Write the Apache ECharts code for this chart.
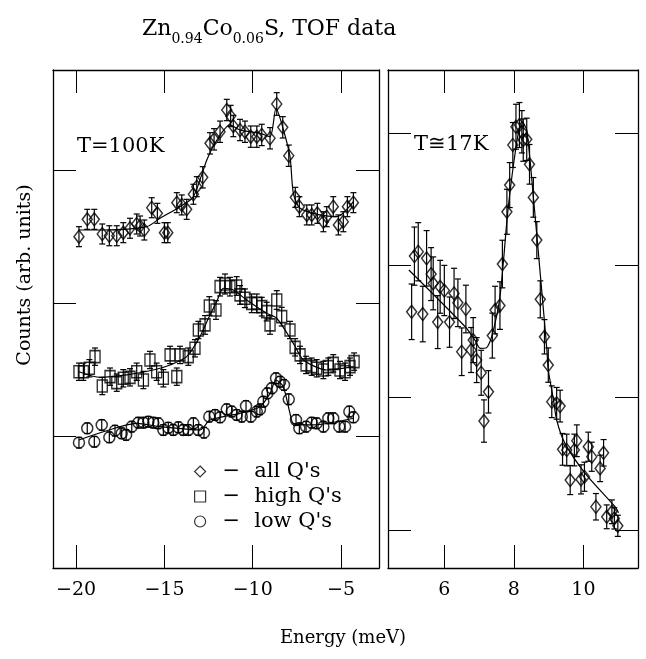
<!DOCTYPE html>
<html><head><meta charset="utf-8">
<script src="https://cdn.jsdelivr.net/npm/echarts@6/dist/echarts.min.js"></script>
<style>html,body{margin:0;padding:0;background:#fff}#c{width:646px;height:659px}</style>
</head><body><div id="c"></div>
<script>
// ---- T = 100 K, all Q's (diamonds) ----
const all100E = [-19.84,-19.37,-18.97,-18.52,-18.12,-17.70,-17.33,-16.95,-16.57,-16.38,-16.14,-15.72,-15.40,-15.00,-14.81,-14.30,-14.02,-13.74,-13.36,-13.17,-12.83,-12.42,-12.19,-11.85,-11.47,-11.25,-11.10,-10.72,-10.44,-10.11,-9.77,-9.49,-9.02,-8.64,-8.30,-7.96,-7.59,-7.36,-6.94,-6.66,-6.34,-6.00,-5.81,-5.44,-5.15,-4.87,-4.64,-4.30];
const all100C = [250.0,263.0,263.0,252.0,250.7,250.7,253.0,256.3,259.5,258.0,255.0,271.7,267.5,253.0,253.0,275.5,273.8,270.5,281.8,287.5,294.5,320.0,323.0,328.7,345.0,340.5,333.0,330.0,328.7,325.0,325.0,326.3,323.8,349.5,332.0,310.7,279.5,272.5,266.3,266.3,267.5,261.2,265.0,272.5,258.8,261.2,272.5,275.5];
const all100Err = [7.5,7.5,7.5,7.5,7.5,7.5,7.5,7.5,7.5,7.5,7.5,7.5,7.5,7.5,7.5,7.5,7.5,7.5,7.5,7.5,8,8,8,8,8,8,8,8,8,8,8,8,8,8.5,8,8,7.5,7.5,7.5,7.5,7.5,7.5,7.5,7.5,7.5,7.5,7.5,7.5];
// ---- T = 100 K, high Q's (squares) ----
const highE = [-19.84,-19.59,-19.25,-18.93,-18.52,-18.08,-17.70,-17.33,-16.95,-16.57,-16.19,-15.82,-15.44,-15.06,-14.68,-14.30,-14.12,-13.65,-13.27,-13.08,-12.70,-12.46,-12.08,-11.85,-11.57,-11.29,-10.91,-10.72,-10.44,-10.06,-9.77,-9.49,-9.21,-9.02,-8.64,-8.36,-7.89,-7.60,-7.32,-6.98,-6.66,-6.38,-6.00,-5.72,-5.44,-5.06,-4.77,-4.49,-4.26];
const highC = [148.7,148.7,151.3,160.0,138.0,145.0,140.5,143.8,144.5,148.7,142.5,157.5,148.7,143.8,161.3,145.0,161.3,160.0,166.3,180.0,183.8,198.0,195.0,212.5,214.5,212.5,213.0,206.3,203.8,200.0,200.0,197.5,193.8,183.8,202.5,190.0,180.0,167.0,161.3,153.8,152.5,151.3,150.0,152.5,155.0,150.0,148.7,152.5,156.3];
const highErr = [6.5,6.5,6.5,6.5,6.5,6.5,6.5,6.5,6.5,6.5,6.5,6.5,6.5,6.5,6.5,6.5,6.5,6.5,6.5,6.5,7,7,7,7,7.5,7,7,7,7,7,7,7,7,7,7,7,6.5,6.5,6.5,6.5,6.5,6.5,6.5,6.5,6.5,6.5,6.5,6.5,6.5];
// ---- T = 100 K, low Q's (circles) ----
const lowE = [-19.84,-19.37,-18.97,-18.55,-18.12,-17.80,-17.42,-17.17,-16.85,-16.48,-16.19,-15.91,-15.63,-15.35,-15.06,-14.78,-14.50,-14.21,-13.93,-13.65,-13.36,-13.08,-12.76,-12.46,-12.13,-11.85,-11.47,-11.19,-10.91,-10.62,-10.38,-10.11,-9.77,-9.59,-9.40,-9.17,-8.92,-8.68,-8.45,-8.23,-7.96,-7.55,-7.36,-6.98,-6.66,-6.38,-6.00,-5.72,-5.44,-5.10,-4.77,-4.53,-4.30];
const lowC = [95.5,106.3,96.2,108.8,99.5,104.5,102.5,101.3,107.5,110.5,110.5,111.2,110.5,110.0,105.0,106.7,105.0,107.0,105.0,105.0,110.0,105.0,103.0,115.0,116.3,114.5,120.5,118.8,116.3,115.0,123.0,115.0,118.8,120.5,126.2,132.5,136.3,143.8,141.2,138.8,128.0,112.5,106.3,107.5,110.5,110.0,107.5,113.8,113.8,107.5,107.5,118.8,114.5];
const lowErr = [4,4,4,4,4,4,4,4,4,4,4,4,4,4,4,4,4,4,4,4,4,4,4,4,4,4,4,4,4,4,4,4,4,4,4,4,4,4,4,4,4,4,4,4,4,4,4,4,4,4,4,4,4];
// ---- T ~ 17 K, all Q's (diamonds) ----
const all17E = [5.06,5.14,5.25,5.38,5.49,5.62,5.68,5.81,5.88,6.00,6.15,6.28,6.39,6.50,6.62,6.77,6.83,6.93,7.06,7.14,7.27,7.38,7.46,7.60,7.67,7.80,7.88,7.97,8.06,8.16,8.23,8.27,8.37,8.45,8.56,8.66,8.76,8.88,8.99,9.09,9.23,9.33,9.40,9.52,9.62,9.74,9.81,9.93,10.03,10.14,10.24,10.36,10.48,10.58,10.67,10.82,10.89,10.99];
const all17C = [264.8,306.9,310.2,263.1,305.2,293.3,286.3,257.0,283.7,280.9,257.0,278.7,271.6,234.6,266.9,235.9,243.4,228.3,218.7,182.2,204.3,246.8,266.1,269.5,300.9,340.4,360.6,390.9,404.7,406.0,400.9,394.6,395.2,376.3,351.3,319.0,274.2,245.9,224.5,196.8,195.6,193.5,160.8,160.3,137.6,160.3,167.3,138.1,140.1,162.8,155.2,117.4,146.4,158.2,109.8,113.6,108.6,103.0];
const all17Err = [21,22,22,21,21,20,20,20,20,19,19,19,18,18,18,17,17,17,17,16,16,17,18,18,18,17,17,17,17,17,16,16,16,15,15,14,14,13,13,12,12,12,12,12,11,12,12,11,11,11,11,10,10,10,9,9,8,8];
// ---- fitted curves ----
const fitAll100E = [-19.84,-18.46,-16.0,-15.25,-14.12,-13.36,-12.6,-12.03,-11.29,-10.72,-9.59,-9.02,-8.68,-8.30,-7.89,-7.70,-7.32,-6.19,-5.24,-4.30];
const fitAll100C = [255,255,257.5,263.8,272.5,280,307.5,322.5,333.8,330,327.5,325,346.3,332,310,282.5,271.3,266.3,265,276.3];
const fitHighE = [-19.84,-18.65,-17.14,-15.63,-14.68,-13.74,-12.99,-12.51,-12.04,-11.66,-11.10,-10.34,-9.21,-8.64,-7.70,-7.13,-5.81,-4.30];
const fitHighC = [148.7,144.5,146.3,150.0,153.8,160.0,175.0,188.8,201.3,211.3,210.0,202.5,192.5,188.8,170.0,157.5,150.0,152.5];
const fitLowE = [-19.84,-18.46,-16.57,-15.25,-12.99,-12.42,-10.72,-9.59,-9.02,-8.68,-8.27,-7.89,-7.70,-6.57,-4.30];
const fitLowC = [97.5,103.7,110,107.5,105,112.5,117.5,122.5,132.5,142.5,137.5,117.5,110,108.8,113.8];
const fit17E = [4.98,6.60,6.88,7.03,7.20,7.36,7.60,7.83,8.08,8.23,8.37,8.56,8.80,8.95,8.99,9.14,9.23,9.47,10.05,10.91,11.01];
const fit17C = [296.4,253.5,243.4,237.2,237.4,245.9,276.2,341.7,392.4,408.5,402.2,351.8,281.2,235.9,220.8,198.1,183.0,165.3,142.7,117.4,112.9];
// ---- ticks ----
const leftXTicks = [-20,-15,-10,-5];
const rightXTicks = [6,8,10];
const leftYTicks = [100,200,300];
const rightYTicks = [100,200,300,400];

const FONT = '"DejaVu Serif", "Liberation Serif", serif';
const BLACK = '#000';

function xAx(grid, min, max, ticks, pos){
  return {gridIndex:grid, type:'value', min, max, position:pos,
    axisLine:{show:true, onZero:false, lineStyle:{color:BLACK, width:1.3}},
    axisTick:{show:true, inside:true, length:23, customValues:ticks, lineStyle:{color:BLACK, width:1}},
    axisLabel:{show:pos==='bottom', customValues:ticks, margin:13, fontFamily:FONT, fontSize:19, color:BLACK,
      formatter:v=>String(v).replace('-', '\u2212')},
    splitLine:{show:false}};
}
function yAx(grid, min, max, ticks, pos){
  return {gridIndex:grid, type:'value', min, max, position:pos,
    axisLine:{show:true, onZero:false, lineStyle:{color:BLACK, width:1.3}},
    axisTick:{show:true, inside:true, length:23, customValues:ticks, lineStyle:{color:BLACK, width:1}},
    axisLabel:{show:false}, splitLine:{show:false}};
}
function errRender(params, api){
  const x = api.value(0), y = api.value(1), e = api.value(2);
  const a = api.coord([x, y + e]), b = api.coord([x, y - e]);
  const hw = 3, st = {stroke:BLACK, lineWidth:1.2};
  return {type:'group', children:[
    {type:'line', shape:{x1:a[0], y1:a[1], x2:b[0], y2:b[1]}, style:st},
    {type:'line', shape:{x1:a[0]-hw, y1:a[1], x2:a[0]+hw, y2:a[1]}, style:st},
    {type:'line', shape:{x1:b[0]-hw, y1:b[1], x2:b[0]+hw, y2:b[1]}, style:st}]};
}
function errSeries(name, E, C, Er, xi, yi){
  return {name, type:'custom', xAxisIndex:xi, yAxisIndex:yi, renderItem:errRender, silent:true, z:1,
    encode:{x:0, y:1}, data:E.map((e,i)=>[e, C[i], Er[i]])};
}
function fitSeries(name, E, C, xi, yi){
  return {name, type:'line', xAxisIndex:xi, yAxisIndex:yi, showSymbol:false, silent:true, smooth:0.25, z:2,
    lineStyle:{color:BLACK, width:1.2}, data:E.map((e,i)=>[e, C[i]])};
}
function ptSeries(name, E, C, sym, size, xi, yi){
  return {name, type:'scatter', xAxisIndex:xi, yAxisIndex:yi, symbol:sym, symbolSize:size, z:3,
    itemStyle:{color:'rgba(255,255,255,0)', borderColor:BLACK, borderWidth:1.5}, data:E.map((e,i)=>[e, C[i]])};
}

const chart = echarts.init(document.getElementById('c'), null, {renderer:'canvas'});
chart.setOption({
  backgroundColor:'#fff',
  animation:false,
  title:{text:'{n|Zn}{s|0.94}{n|Co}{s|0.06}{n|S, TOF data}', left:137, top:13,
    textStyle:{fontWeight:'normal', rich:{
      n:{fontFamily:FONT, fontSize:22, fontWeight:'normal', color:BLACK, verticalAlign:'bottom', padding:[0,0,6,0]},
      s:{fontFamily:FONT, fontSize:14, fontWeight:'normal', color:BLACK, verticalAlign:'bottom'}}}},
  grid:[{left:53, top:70, width:326, height:498}, {left:388, top:70, width:250, height:498}],
  xAxis:[xAx(0,-21.31,-2.85,leftXTicks,'bottom'), xAx(0,-21.31,-2.85,leftXTicks,'top'),
         xAx(1,4.38,11.57,rightXTicks,'bottom'), xAx(1,4.38,11.57,rightXTicks,'top')],
  yAxis:[yAx(0,1.5,375,leftYTicks,'left'), yAx(0,1.5,375,leftYTicks,'right'),
         yAx(1,71.1,447.6,rightYTicks,'left'), yAx(1,71.1,447.6,rightYTicks,'right')],
  legend:{orient:'vertical', left:189, top:456, itemWidth:11, itemHeight:11, itemGap:4, selectedMode:false,
    data:[{name:"all Q's", icon:'diamond'}, {name:"high Q's", icon:'rect'}, {name:"low Q's", icon:'circle'}],
    itemStyle:{color:'rgba(255,255,255,0)', borderColor:BLACK, borderWidth:1.2},
    formatter:n=>'{d|\u2212}' + n,
    textStyle:{fontFamily:FONT, fontSize:21, lineHeight:21, color:BLACK,
      rich:{d:{fontFamily:FONT, fontSize:21, lineHeight:21, color:BLACK, padding:[0,14,0,12]}}}},
  graphic:[
    {type:'text', x:77, y:147, style:{text:'T=100K', font:'21px ' + FONT, fill:BLACK, textVerticalAlign:'middle'}},
    {type:'text', x:414, y:145, style:{text:'T\u224517K', font:'21px ' + FONT, fill:BLACK, textVerticalAlign:'middle'}},
    {type:'text', x:343, y:638, style:{text:'Energy (meV)', font:'18px ' + FONT, fill:BLACK, textAlign:'center', textVerticalAlign:'middle'}},
    {type:'text', x:25, y:275, rotation:Math.PI/2, style:{text:'Counts (arb. units)', font:'19px ' + FONT, fill:BLACK, textAlign:'center', textVerticalAlign:'middle'}}
  ],
  series:[
    errSeries('err all 100', all100E, all100C, all100Err, 0, 0),
    errSeries('err high', highE, highC, highErr, 0, 0),
    errSeries('err low', lowE, lowC, lowErr, 0, 0),
    errSeries('err all 17', all17E, all17C, all17Err, 2, 2),
    fitSeries('fit all 100', fitAll100E, fitAll100C, 0, 0),
    fitSeries('fit high', fitHighE, fitHighC, 0, 0),
    fitSeries('fit low', fitLowE, fitLowC, 0, 0),
    fitSeries('fit all 17', fit17E, fit17C, 2, 2),
    ptSeries("all Q's", all100E, all100C, 'diamond', [10,13], 0, 0),
    ptSeries("high Q's", highE, highC, 'rect', [10,12], 0, 0),
    ptSeries("low Q's", lowE, lowC, 'circle', 11, 0, 0),
    ptSeries("all Q's, T\u224517K", all17E, all17C, 'diamond', [10,13], 2, 2)
  ]
});
</script></body></html>
